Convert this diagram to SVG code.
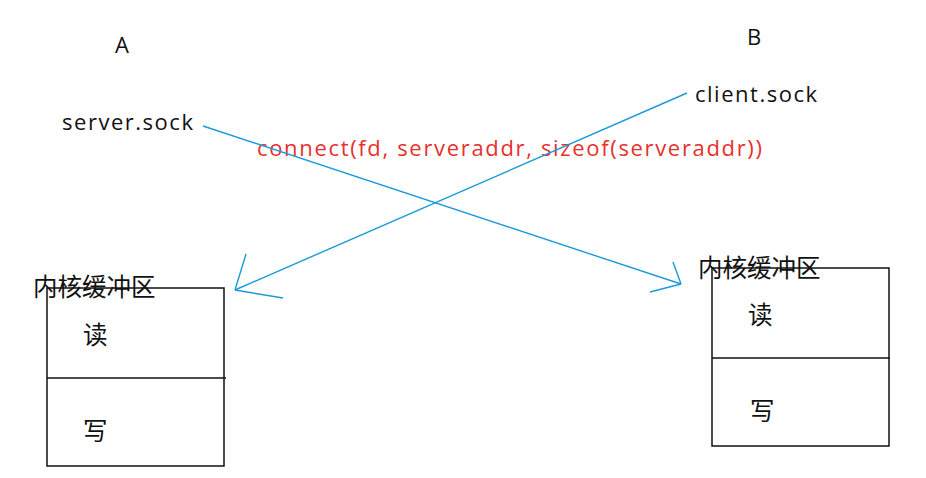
<svg xmlns="http://www.w3.org/2000/svg" width="926" height="478" viewBox="0 0 926 478">
<style>
.lbl{font-family:"Open Sans","Noto Sans","Liberation Sans",sans-serif;font-size:22px;fill:#111}
.cjk{font-family:"Noto Sans CJK SC",sans-serif;font-size:24.5px;fill:#111}
.red{font-family:"Open Sans","Noto Sans","Liberation Sans",sans-serif;font-size:22px;fill:#e8302c}
.box{fill:none;stroke:#111;stroke-width:1.5}
.conn{fill:none;stroke:#1b9ad9;stroke-width:1.4}
</style>
<rect width="926" height="478" fill="#fff"/>
<g id="labelA"><text class="lbl" x="115" y="53">A</text></g>
<g id="labelB"><text class="lbl" x="747" y="45">B</text></g>
<g id="server"><text class="lbl" x="62" y="130" textLength="131">server.sock</text></g>
<g id="client"><text class="lbl" x="695" y="102" textLength="122">client.sock</text></g>
<g id="connectLabel"><text class="red" x="257" y="156" textLength="505">connect(fd, serveraddr, sizeof(serveraddr))</text></g>
<g id="bufferA">
<rect class="box" x="47" y="288" width="177" height="178"/>
<line class="box" x1="47" y1="378" x2="226" y2="378"/>
<text class="cjk" x="33" y="296">内核缓冲区</text>
<text class="cjk" x="83" y="344">读</text>
<text class="cjk" x="83" y="440">写</text>
</g>
<g id="bufferB">
<rect class="box" x="712" y="268" width="177" height="178"/>
<line class="box" x1="712" y1="358" x2="890" y2="358"/>
<text class="cjk" x="698" y="277">内核缓冲区</text>
<text class="cjk" x="748" y="324">读</text>
<text class="cjk" x="750" y="420">写</text>
</g>
<g id="connectors">
<line class="conn" x1="203" y1="126" x2="681" y2="284"/>
<line class="conn" x1="681" y1="284" x2="673" y2="262"/>
<line class="conn" x1="681" y1="284" x2="650" y2="292"/>
<line class="conn" x1="687" y1="93" x2="235" y2="290"/>
<line class="conn" x1="235" y1="290" x2="246" y2="254"/>
<line class="conn" x1="235" y1="290" x2="283" y2="298"/>
</g>
</svg>
